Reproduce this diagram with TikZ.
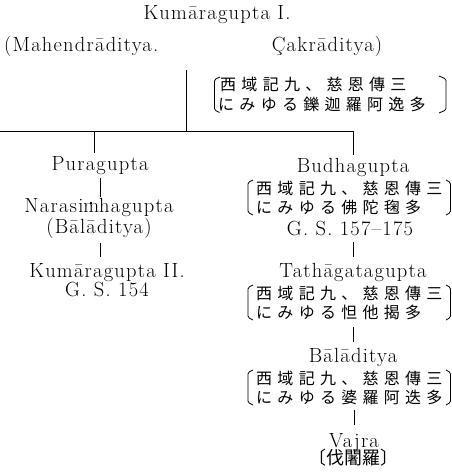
\documentclass[tikz,border=0pt]{standalone}
\usepackage{fontspec}
\newfontfamily\latf{Latin Modern Roman}[LetterSpace=6]
\newfontfamily\cjk{Noto Sans CJK JP}[LetterSpace=33]
\newfontfamily\cjkn{Noto Sans CJK JP}
\newcommand{\dotm}{\ooalign{m\cr\hidewidth\raisebox{0.44em}{\rule{1.7pt}{1.7pt}}\hidewidth\cr}}
\tikzset{
  latbase/.style={font=\latf\fontsize{20.5}{18}\selectfont, inner sep=0pt},
  lat/.style={latbase, text height=13pt, text depth=4pt, anchor=base},
  cj/.style={font=\fontsize{16}{18}\selectfont\cjk, inner sep=0pt, anchor=west},
  cjn/.style={font=\fontsize{18}{20}\selectfont\cjkn, inner sep=0pt},
  ln/.style={line width=0.8pt, black},
  br/.style={line width=0.8pt, black, rounded corners=1.5pt},
}
\begin{document}
\begin{tikzpicture}[x=1pt,y=-1pt]
\useasboundingbox (0,0) rectangle (452,475);

% top generation
\node[lat] (k1) at (217,19.5) {Kumāragupta I.};
\node[lat, anchor=base west] (mah) at (4,51) {(Mahendrāditya.};
\node[lat] (cak) at (327,51) {Çakrāditya)};
\node[cj] (ta) at (220,84) {西域記九、慈恩傳三};
\node[cj] (tb) at (218,104.5) {にみゆる鑠迦羅阿逸多};
\draw[br] (220,77) -- (214.5,79.5) -- (214.5,110) -- (219.5,112.5);
\draw[br] (439,76) -- (446,79) -- (446,110) -- (439,113);

% trunk
\coordinate (trtop) at (186,70);
\coordinate (trj) at (186,131);
\coordinate (hl) at (0,131);
\coordinate (lj) at (94,131);
\coordinate (rj) at (353,131);
\draw[ln] (trtop) -- (trj);
\draw[ln] (hl) -- (rj);

% left branch
\node[lat] (pura) at (100,170) {Puragupta};
\node[latbase, align=center, anchor=north] (nara) at (99,198.5)
  {Narasi\dotm hagupta\\(Bālāditya)};
\node[lat] (k2) at (107,277) {Kumāragupta II.};
\node[lat] (gs1) at (107,296) {G. S. 154};
\draw[ln, shorten >=4pt] (lj) -- (lj |- pura.north);
\draw[ln, shorten <=4pt, shorten >=2pt] (pura.south) -- (pura.south |- nara.north);
\draw[ln, shorten <=4pt, shorten >=7pt] (nara.south -| pura.south) -- (pura.south |- k2.north);

% right branch
\node[lat] (bud) at (353,172) {Budhagupta};
\node[cj] (ba) at (256,188) {西域記九、慈恩傳三};
\node[cj] (bb) at (256,207) {にみゆる佛陀毱多};
\draw[br] (253,180) -- (248,182.5) -- (248,212.5) -- (253,215);
\draw[br] (446,180) -- (450.5,182.5) -- (450.5,212.5) -- (446,215);
\node[lat] (gs2) at (350,235) {G. S. 157–175};

\node[lat] (tath) at (353,277) {Tathāgatagupta};
\node[cj] (tha) at (256,293) {西域記九、慈恩傳三};
\node[cj] (thb) at (256,312) {にみゆる怛他揭多};
\draw[br] (253,285) -- (248,287.5) -- (248,317.5) -- (253,320);
\draw[br] (446,285) -- (450.5,287.5) -- (450.5,317.5) -- (446,320);

\node[lat] (bal) at (353,362) {Bālāditya};
\node[cj] (bla) at (256,378) {西域記九、慈恩傳三};
\node[cj] (blb) at (256,397) {にみゆる婆羅阿迭多};
\draw[br] (253,370) -- (248,372.5) -- (248,402.5) -- (253,405);
\draw[br] (446,370) -- (450.5,372.5) -- (450.5,402.5) -- (446,405);

\node[lat] (vaj) at (354,447) {Vajra};
\node[cjn] (vajc) at (353,458) {〔伐闍羅〕};

\draw[ln, shorten >=4pt] (rj) -- (bud.north);
\draw[ln, shorten <=3pt, shorten >=7pt] (tath.north |- gs2.south) -- (tath.north);
\draw[ln, shorten <=7pt, shorten >=7pt] (bal.north |- thb.south) -- (bal.north);
\draw[ln, shorten <=5pt, shorten >=9pt] (vaj.north |- blb.south) -- (vaj.north);
\end{tikzpicture}
\end{document}
